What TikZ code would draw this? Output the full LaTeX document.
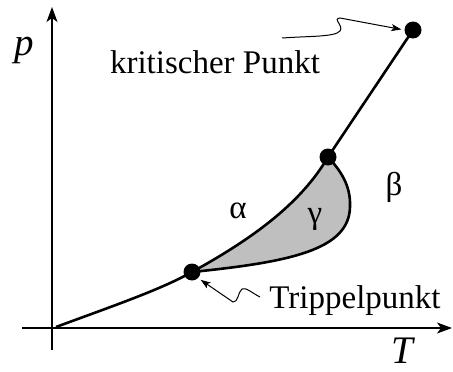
\documentclass[tikz,border=0pt]{standalone}
\usepackage{fontspec}
\setmainfont{Liberation Serif}
\usetikzlibrary{arrows.meta}
\begin{document}
\begin{tikzpicture}[x=1pt,y=-1pt,
  axis/.style={line width=1.3pt,-{Stealth[length=15pt,width=11pt,inset=4pt]}},
  curve/.style={line width=2.6pt},
  pointer/.style={line width=1pt,shorten >=3pt,-{Stealth[length=10pt,width=7pt,inset=2.5pt]}},
  dot/.style={circle,fill=black,inner sep=0pt,minimum size=17pt},
  lab/.style={font=\fontsize{33}{38}\selectfont,inner sep=0pt,anchor=base},
  axlab/.style={font=\fontsize{39}{44}\selectfont\itshape,inner sep=0pt,anchor=base}]
\useasboundingbox (0,0) rectangle (453,372);
% axes
\coordinate (ybot) at (52,350);
\coordinate (ytop) at (52,7);
\coordinate (xl) at (22,328);
\coordinate (xr) at (452,328);
\draw[axis] (ybot) -- (ytop);
\draw[axis] (xl) -- (xr);
% points
\coordinate (O) at (56,327);
\coordinate (tp) at (192,272);
\coordinate (up) at (328,157);
\coordinate (cp) at (413,30);
% gamma region
\fill[gray!50] (tp) .. controls (250,240) and (300,205) .. (up)
  .. controls (340,170) and (351,185) .. (350,207)
  .. controls (349,250) and (290,262) .. (tp) -- cycle;
\draw[curve] (O) .. controls (110,307) and (160,290) .. (tp)
  .. controls (250,240) and (300,205) .. (up) -- (cp);
\draw[curve] (up) .. controls (340,170) and (351,185) .. (350,207)
  .. controls (349,250) and (290,262) .. (tp);
\node[dot] (ntp) at (tp) {};
\node[dot] (nup) at (up) {};
\node[dot] (ncp) at (cp) {};
% labels
\node[lab] (kp) at (215,73) {kritischer Punkt};
\node[lab] (trp) at (355,308) {Trippelpunkt};
\node[lab] (alpha) at (238,218) {α};
\node[lab] (beta) at (394,195) {β};
\node[lab] (gamma) at (315,223) {γ};
\node[axlab] (plab) at (24,55) {p};
\node[axlab] (Tlab) at (402,363) {T};
% pointers
\coordinate (k0) at (282,38);
\coordinate (t0) at (260,297);
\draw[pointer] (k0) .. controls (310,36) and (335,37) .. (340,31)
  .. controls (344,25) and (332,19) .. (340,18)
  -- (ncp.west);
\draw[pointer] (t0) .. controls (252,293) and (246,287) .. (242,289)
  .. controls (238,292) and (238,303) .. (233,302)
  -- (ntp.south east);
\end{tikzpicture}
\end{document}
